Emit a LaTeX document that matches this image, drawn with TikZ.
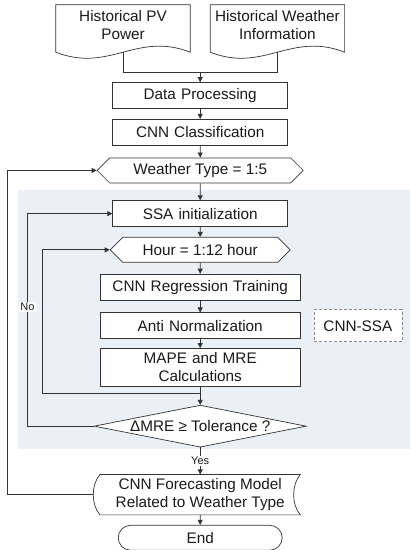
\documentclass[tikz,border=0pt]{standalone}
\usepackage{fontspec}
\setmainfont{Liberation Sans}
\usetikzlibrary{
arrows.meta,
positioning,
shapes.geometric,
shapes.misc,
shapes.symbols,
calc
}
\definecolor{FCLine}{HTML}{333333}
\definecolor{FCText}{HTML}{1A1A1A}
\definecolor{FCShade}{HTML}{EAF0F6}
\definecolor{FCDash}{HTML}{8C8C8C}
\newcommand{\fcfont}{\fontsize{15.3}{18}\selectfont}
\newcommand{\fcsmall}{\fontsize{11}{13}\selectfont}
\newcommand{\docoutline}[1]{%
\draw[fcline] (#1.north west) -- (#1.north east) -- ([yshift=-7pt]#1.south east)
  .. controls ([xshift=-53.6pt,yshift=14pt]#1.south east) and ([xshift=53.6pt,yshift=-28pt]#1.south west)
  .. ([yshift=-7pt]#1.south west) -- cycle;}
\newcommand{\storedoutline}[1]{%
\draw[fcline] (#1.north west)
  .. controls ([xshift=-9pt,yshift=-10pt]#1.north west) and ([xshift=-9pt,yshift=10pt]#1.south west) .. (#1.south west)
  -- (#1.south east)
  .. controls ([xshift=-9pt,yshift=10pt]#1.south east) and ([xshift=-9pt,yshift=-10pt]#1.north east) .. (#1.north east)
  -- cycle;}
\tikzset{
fcline/.style={line width=0.7pt, draw=FCLine},
fcarrow/.style={-{Triangle[length=5pt, width=5pt]}, line width=0.7pt, draw=FCLine},
fcblock/.style={draw=FCLine, fill=white, line width=0.7pt, align=center, inner sep=0pt,
  minimum height=26pt, text width=175pt, font=\fcfont, text=FCText},
fcblockwide/.style={fcblock, text width=200pt},
fcdoc/.style={align=center, inner sep=0pt, minimum width=134pt, minimum height=40pt,
  font=\fcfont, text=FCText},
fcloop/.style={signal, signal to=west and east, signal pointer angle=90, draw=FCLine,
  fill=white, line width=0.7pt, inner sep=0pt, minimum height=25pt, font=\fcfont, text=FCText},
fcdecide/.style={diamond, aspect=5, draw=FCLine, fill=white, line width=0.7pt, inner sep=0pt,
  minimum width=212pt, minimum height=42pt, font=\fcfont, text=FCText},
fcstored/.style={align=center, inner sep=0pt, minimum width=200pt, minimum height=40pt,
  font=\fcfont, text=FCText},
fcend/.style={rounded rectangle, draw=FCLine, line width=0.7pt, inner sep=0pt,
  minimum width=164pt, minimum height=25pt, font=\fcfont, text=FCText},
fctag/.style={draw=FCDash, dash pattern=on 3pt off 2pt, fill=white, line width=0.7pt,
  inner sep=0pt, minimum width=88pt, minimum height=32pt, font=\fcfont, text=FCText},
fclabel/.style={fill=white, inner sep=1.5pt, font=\fcsmall, text=FCText}
}
\begin{document}
\begin{tikzpicture}[x=1pt, y=1pt]
\fill[white] (0,0) rectangle (410,550);
\useasboundingbox (0,0) rectangle (410,550);
\fill[FCShade] (18,101) rectangle (410,360);

\node[fcdoc] (pv) at (123,525) {Historical PV\\Power};
\node[fcdoc, right=20pt of pv] (wx) {Historical Weather\\Information};
\docoutline{pv}
\docoutline{wx}
\coordinate (join) at ($(pv.south)!0.5!(wx.south)+(0,-27)$);
\node[fcblock, below=10pt of join] (dp) {Data Processing};
\node[fcblock, below=10pt of dp] (cls) {CNN Classification};
\node[fcloop, minimum width=206pt, below=12pt of cls] (wt) {Weather Type = 1:5};
\node[fcblock, below=17pt of wt] (ssa) {SSA initialization};
\node[fcloop, minimum width=180pt, below=10pt of ssa] (hour) {Hour = 1:12 hour};
\node[fcblockwide, below=11pt of hour] (reg) {CNN Regression Training};
\node[fcblockwide, below=12pt of reg] (anti) {Anti Normalization};
\node[fcblockwide, minimum height=38pt, below=9pt of anti] (mape) {MAPE and MRE\\Calculations};
\node[fctag, right=13pt of anti] (tag) {CNN-SSA};
\node[fcdecide, below=18pt of mape] (dec) {ΔMRE ≥ Tolerance ?};
\node[fcstored, below=27pt of dec] (fc) {CNN Forecasting Model\\Related to Weather Type};
\storedoutline{fc}
\node[fcend, below=10pt of fc] (end) {End};
\coordinate (mj) at ($(mape.south)+(0,-7)$);

\draw[fcline] ([yshift=-7pt]pv.south) |- (join) -| ([yshift=-7pt]wx.south);
\draw[fcarrow] (join) -- (dp);
\draw[fcarrow] (dp) -- (cls);
\draw[fcarrow] (cls) -- (wt);
\draw[fcarrow] (wt) -- (ssa);
\draw[fcarrow] (ssa) -- (hour);
\draw[fcarrow] (hour) -- (reg);
\draw[fcarrow] (reg) -- (anti);
\draw[fcarrow] (anti) -- (mape);
\draw[fcarrow] (mape) -- (dec);
\draw[fcarrow] (mj) -| ([xshift=-67pt]hour.west) -- (hour.west);
\draw[fcarrow] (dec.west) -| node[fclabel, pos=0.78] {No} ([xshift=-85pt]ssa.west) -- (ssa.west);
\draw[fcarrow] (dec) -- node[fclabel] {Yes} (fc);
\draw[fcarrow] ([xshift=-7pt]fc.west) -| ([xshift=-89pt]wt.west) -- (wt.west);
\draw[fcarrow] (fc) -- (end);
\end{tikzpicture}
\end{document}
